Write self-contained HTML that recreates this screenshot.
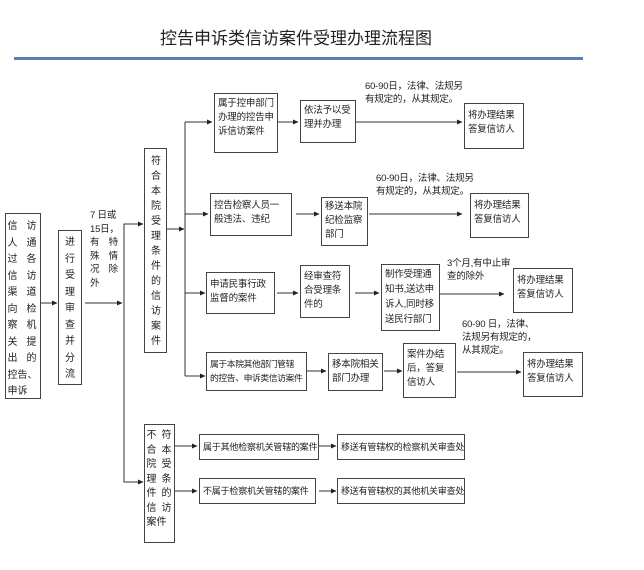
<!DOCTYPE html>
<html><head><meta charset="utf-8"><style>
body{margin:0;width:644px;height:570px;background:#fff;position:relative;overflow:hidden;font-family:"Liberation Sans","Noto Sans CJK SC",sans-serif;color:#222}
.b{position:absolute;border:1px solid #444;box-sizing:border-box;font-size:9.5px;line-height:14px;padding:2px 3px;background:#fff;letter-spacing:-0.2px}
.v{position:absolute;border:1px solid #444;box-sizing:border-box;font-size:10px;line-height:14.5px;text-align:center;padding-top:4px;background:#fff}
.t{position:absolute;font-size:9.5px;line-height:13px;letter-spacing:-0.2px;white-space:nowrap}
.n{white-space:nowrap}
svg{position:absolute;left:0;top:0}
</style></head><body>
<div style="position:absolute;left:160px;top:24px;font-size:17px;color:#222;white-space:nowrap">控告申诉类信访案件受理办理流程图</div>
<div style="position:absolute;left:14px;top:57px;width:569px;height:3px;background:#5a80b8"></div>
<svg width="644" height="570">
<defs><marker id="a" markerWidth="6" markerHeight="6" refX="5" refY="3" orient="auto"><path d="M0,0.5 L5.5,3 L0,5.5z" fill="#222"/></marker></defs>
<g stroke="#333" stroke-width="1" fill="none">
<line x1="40" y1="303" x2="57" y2="303" marker-end="url(#a)"/>
<line x1="85" y1="303" x2="122" y2="303" marker-end="url(#a)"/>
<polyline points="143,224 124,224 124,482 143,482"/>
<line x1="124" y1="224" x2="143" y2="224" marker-end="url(#a)"/>
<line x1="124" y1="482" x2="143" y2="482" marker-end="url(#a)"/>
<line x1="167" y1="229" x2="184" y2="229" marker-end="url(#a)"/>
<line x1="185" y1="122" x2="185" y2="376"/>
<line x1="185" y1="122" x2="212" y2="122" marker-end="url(#a)"/>
<line x1="185" y1="214" x2="208" y2="214" marker-end="url(#a)"/>
<line x1="185" y1="293" x2="205" y2="293" marker-end="url(#a)"/>
<line x1="185" y1="376" x2="205" y2="376" marker-end="url(#a)"/>
<line x1="277" y1="122" x2="298" y2="122" marker-end="url(#a)"/>
<line x1="355" y1="122" x2="462" y2="122" marker-end="url(#a)"/>
<line x1="296" y1="214" x2="319" y2="214" marker-end="url(#a)"/>
<line x1="369" y1="214" x2="462" y2="214" marker-end="url(#a)"/>
<line x1="277" y1="293" x2="298" y2="293" marker-end="url(#a)"/>
<line x1="355" y1="293" x2="379" y2="293" marker-end="url(#a)"/>
<line x1="440" y1="294" x2="504" y2="294" marker-end="url(#a)"/>
<line x1="306" y1="371" x2="326" y2="371" marker-end="url(#a)"/>
<line x1="384" y1="371" x2="402" y2="371" marker-end="url(#a)"/>
<line x1="457" y1="372" x2="521" y2="372" marker-end="url(#a)"/>
<line x1="175" y1="446" x2="197" y2="446" marker-end="url(#a)"/>
<line x1="175" y1="491" x2="197" y2="491" marker-end="url(#a)"/>
<line x1="319" y1="446" x2="336" y2="446" marker-end="url(#a)"/>
<line x1="319" y1="491" x2="336" y2="491" marker-end="url(#a)"/>
</g></svg>
<div class="v n" style="left:5px;top:213px;width:36px;height:186px;display:flex;justify-content:center;gap:3px;padding-top:5px;line-height:16.5px;font-size:10px"><div style="width:14px;text-align:left">信<br>人<br>过<br>信<br>渠<br>向<br>察<br>关<br>出<br>控告、<br>申诉</div><div style="width:14px">访<br>通<br>各<br>访<br>道<br>检<br>机<br>提<br>的</div></div>
<div class="v" style="left:58px;top:230px;width:24px;height:155px;padding:4px 6px;line-height:16.5px">进行受理审查并分流</div>
<div class="t n" style="left:90px;top:209px;line-height:13.5px">7 日或<br>15日，<br>有　特<br>殊　情<br>况　除<br>外</div>
<div class="v" style="left:144px;top:148px;width:23px;height:205px;padding:5px 6px;line-height:15px">符合本院受理条件的信访案件</div>
<div class="v n" style="left:144px;top:424px;width:31px;height:119px;display:flex;justify-content:center;gap:2px;line-height:14.5px"><div style="width:12px;text-align:left">不<br>合<br>院<br>理<br>件<br>信<br>案件</div><div style="width:12px">符<br>本<br>受<br>条<br>的<br>访</div></div>
<div class="b" style="left:214px;top:93px;width:64px;height:60px;padding-top:3px">属于控申部门办理的控告申诉信访案件</div>
<div class="b" style="left:300px;top:100px;width:56px;height:43px;padding-top:3px">依法予以受理并办理</div>
<div class="t" style="left:365px;top:80px">60-90日，法律、法规另<br>有规定的，从其规定。</div>
<div class="b" style="left:464px;top:103px;width:60px;height:46px;padding-top:5px">将办理结果答复信访人</div>
<div class="b" style="left:210px;top:193px;width:82px;height:43px;padding-top:5px">控告检察人员一般违法、违纪</div>
<div class="b" style="left:321px;top:197px;width:47px;height:49px">移送本院纪检监察部门</div>
<div class="t" style="left:376px;top:172px">60-90日，法律、法规另<br>有规定的，从其规定。</div>
<div class="b" style="left:470px;top:193px;width:59px;height:45px;padding-top:5px">将办理结果答复信访人</div>
<div class="b" style="left:206px;top:272px;width:69px;height:42px;padding-top:5px">申请民事行政监督的案件</div>
<div class="b" style="left:300px;top:265px;width:50px;height:53px;padding-top:4px">经审查符合受理条件的</div>
<div class="b" style="left:381px;top:264px;width:59px;height:67px;padding-top:2px;line-height:15px">制作受理通知书,送达申诉人,同时移送民行部门</div>
<div class="t" style="left:447px;top:257px">3个月,有中止审<br>查的除外</div>
<div class="b" style="left:513px;top:268px;width:60px;height:45px;padding-top:5px">将办理结果答复信访人</div>
<div class="b n" style="left:206px;top:352px;width:101px;height:39px;padding-top:4px;font-size:8.8px;letter-spacing:-0.4px">属于本院其他部门管辖<br>的控告、申诉类信访案件</div>
<div class="b" style="left:328px;top:353px;width:55px;height:38px;padding-top:4px">移本院相关部门办理</div>
<div class="b" style="left:403px;top:343px;width:53px;height:55px;padding-top:4px">案件办结后，答复信访人</div>
<div class="t" style="left:462px;top:318px">60-90 日，法律、<br>法规另有规定的，<br>从其规定。</div>
<div class="b" style="left:523px;top:352px;width:60px;height:45px;padding-top:5px">将办理结果答复信访人</div>
<div class="b n" style="left:199px;top:434px;width:120px;height:26px;padding-top:5px;font-size:9px">属于其他检察机关管辖的案件</div>
<div class="b n" style="left:337px;top:434px;width:128px;height:26px;padding-top:5px;font-size:9px">移送有管辖权的检察机关审查处</div>
<div class="b n" style="left:199px;top:478px;width:117px;height:26px;padding-top:5px;font-size:9px">不属于检察机关管辖的案件</div>
<div class="b n" style="left:337px;top:478px;width:128px;height:26px;padding-top:5px;font-size:9px">移送有管辖权的其他机关审查处</div>
</body></html>
